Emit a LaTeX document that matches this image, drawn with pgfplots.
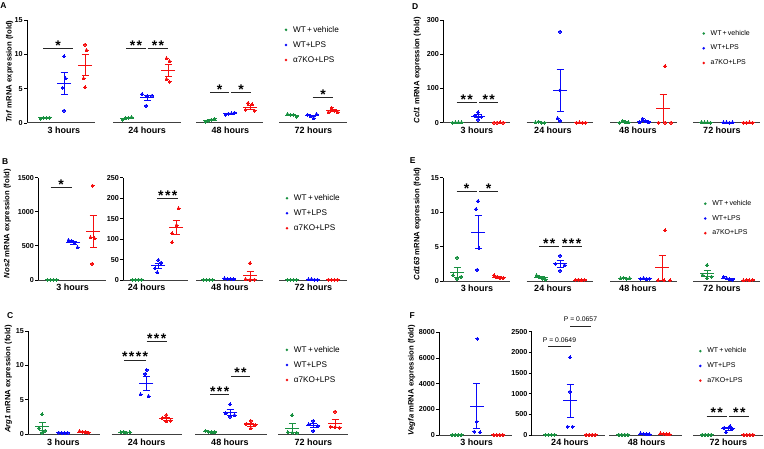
\documentclass[border=0pt]{standalone}
\usepackage{fontspec}
\setmainfont{Liberation Sans}
\setsansfont{Liberation Sans}
\usepackage{pgfplots}
\pgfplotsset{compat=1.18}
\definecolor{cg}{RGB}{25,145,65}
\definecolor{cb}{RGB}{10,10,250}
\definecolor{cr}{RGB}{245,15,15}
\newcommand{\fs}[1]{\fontsize{#1}{#1}\selectfont}
\newcommand{\sig}[4]{\draw[line width=0.9pt, black!85] (axis cs:#1,#3) -- node[midway, anchor=base, yshift=-2pt, inner sep=0pt, text=black, font=\fs{14}\bfseries] {#4} (axis cs:#2,#3);}
\newcommand{\seg}[2]{\draw[line width=1pt, black!75] (axis cs:#1,0) -- (axis cs:#2,0);}
\newcommand{\grp}[2]{\node[anchor=base, yshift=-10.8pt, font=\fs{9}\bfseries, inner sep=0pt] at (axis cs:#1,0) {#2};}
\newcommand{\sst}{*\kern1.4pt*}
\newcommand{\ssst}{*\kern1.4pt*\kern1.4pt*}
\newcommand{\sssst}{*\kern1.4pt*\kern1.4pt*\kern1.4pt*}
\pgfplotsset{
  pan/.style={scale only axis, clip=false, anchor=south west,
    axis x line=none, axis y line*=left,
    axis line style={line width=0.9pt, black},
    ytick style={line width=0.9pt, black},
    major tick length=3pt, tick align=outside,
    scaled y ticks=false,
    yticklabel style={font=\fs{7.2}\bfseries, /pgf/number format/1000 sep={}, /pgf/number format/assume math mode=true, inner sep=1.2pt},
    legend cell align=left,
  },
  leg/.style={legend style={at={#1}, anchor=north west, draw=none, fill=none, font=\fs{8.2}, row sep=5.8pt, inner sep=0pt, nodes={inner sep=1pt}}},
  legs/.style={legend style={at={#1}, anchor=north west, draw=none, fill=none, font=\fs{7}, row sep=6.3pt, inner sep=0pt, nodes={inner sep=1pt}}},
  pts/.style={only marks, mark=*, mark size=1.5pt, color=#1, mark options={fill=#1, draw=#1, line width=0pt},
    legend image code/.code={\fill[draw=none, fill=#1] (0pt,0pt) circle (1.4pt); \path[draw=none, fill=none] (-1.4pt,-1pt) rectangle (6pt,1pt);}},
  msem/.style={forget plot, only marks, color=#1, mark=-, mark size=7pt, mark options={line width=0.9pt, draw=#1}, error bars/.cd, y dir=both, y explicit, error bar style={line width=0.7pt, draw=#1}, error mark options={rotate=90, mark size=3.5pt, line width=0.7pt, draw=#1}},
}
\begin{document}
\begin{tikzpicture}
\path[use as bounding box] (0,0) rectangle (764pt,448pt);
% ---------------- A
\begin{axis}[pan, at={(27pt,325pt)}, width=323pt, height=103pt, xmin=27, xmax=350, ymin=0, ymax=15, ytick={0,5,10,15}, leg={(0.797,0.952)}]
\addplot[msem=cg] coordinates {(45,0.74) +- (0,0.03) (127,0.69) +- (0,0.085) (210,0.41) +- (0,0.09) (292,1.15) +- (0,0.09)};
\addplot[msem=cb] coordinates {(64,5.78) +- (0,1.64) (147,3.65) +- (0,0.39) (230,1.36) +- (0,0.06) (312,1.04) +- (0,0.13)};
\addplot[msem=cr] coordinates {(85,8.43) +- (0,1.52) (168,7.7) +- (0,0.87) (250,2.33) +- (0,0.28) (333,1.79) +- (0,0.14)};
\addplot[pts=cg] coordinates {(40.5,0.65) (43.5,0.75) (46.5,0.75) (49.5,0.8) (122.5,0.45) (125.5,0.7) (128.5,0.75) (131.5,0.85) (205.5,0.2) (208.5,0.35) (211.5,0.5) (214.5,0.6) (287.5,1.3) (290.5,1.2) (293.5,1.2) (296.5,0.9)};
\addplot[pts=cb] coordinates {(64,9.7) (65.5,6.5) (62.5,5.1) (64,1.8) (142,4.2) (152,4.0) (147,3.9) (146,2.5) (225.5,1.2) (228.5,1.35) (231.5,1.4) (234.5,1.5) (307.5,1.2) (310.5,0.95) (313.5,0.7) (316.5,1.3)};
\addplot[pts=cr] coordinates {(85,11.4) (86.5,10.6) (83.5,6.5) (85,5.2) (166.5,9.4) (169.5,9.0) (166.5,6.4) (169.5,6.0) (248,2.9) (252,2.7) (245.5,1.9) (254.5,1.8) (328.5,1.6) (331.5,2.2) (334.5,1.75) (337.5,1.6)};
\legend{WT\,+\,vehicle, WT+LPS, α7KO+LPS}
\seg{27}{95}\seg{113}{181}\seg{196}{263}\seg{279}{347}
\grp{63.8}{3 hours}\grp{147.2}{24 hours}\grp{230.3}{48 hours}\grp{313.3}{72 hours}
\sig{43.3}{72.7}{10.9}{*}
\sig{126}{146}{10.9}{\sst}
\sig{147.7}{168.3}{10.9}{\sst}
\sig{210}{229.3}{4.45}{*}
\sig{231}{251}{4.45}{*}
\sig{312.7}{333.3}{3.7}{*}
\end{axis}
% ---------------- B left
\begin{axis}[pan, at={(38.3pt,168pt)}, width=69.7pt, height=102.3pt, xmin=38.3, xmax=108, ymin=0, ymax=1500, ytick={0,500,1000,1500}]
\addplot[msem=cg] coordinates {(52,1) +- (0,0)};
\addplot[msem=cb] coordinates {(73,546) +- (0,23.7)};
\addplot[msem=cr] coordinates {(93,714) +- (0,240.7)};
\addplot[pts=cg] coordinates {(47.5,1) (50.5,1) (53.5,1) (56.5,1)};
\addplot[pts=cb] coordinates {(68.5,585) (71.5,575) (74.5,545) (77.5,480)};
\addplot[pts=cr] coordinates {(92.5,1383) (90.5,626) (94.5,611) (92,235)};
\seg{38.3}{106}
\grp{72.7}{3 hours}
\sig{50.7}{71.7}{1358}{*}
\end{axis}
% ---------------- B right
\begin{axis}[pan, at={(123.3pt,168pt)}, width=226.7pt, height=102.3pt, xmin=123.3, xmax=350, ymin=0, ymax=250, ytick={0,50,...,250}, leg={(0.715,0.848)}]
\addplot[msem=cg] coordinates {(137,0.65) +- (0,0.07) (208,0.5) +- (0,0) (292,0.5) +- (0,0.04)};
\addplot[msem=cb] coordinates {(158,34.6) +- (0,6.78) (229,2.875) +- (0,0.43) (313,1.43) +- (0,0.22)};
\addplot[msem=cr] coordinates {(176,128.75) +- (0,17.6) (250,11.25) +- (0,9.9) (333,0.65) +- (0,0.06)};
\addplot[pts=cg] coordinates {(132.5,0.5) (135.5,0.6) (138.5,0.7) (141.5,0.8) (203.5,0.5) (206.5,0.5) (209.5,0.5) (212.5,0.5) (287.5,0.5) (290.5,0.6) (293.5,0.4) (296.5,0.5)};
\addplot[pts=cb] coordinates {(158.3,48.8) (161,42.3) (155,28.5) (157.3,18.7) (224.5,4) (227.5,3) (230.5,2.5) (233.5,2) (308.5,1.5) (311.5,2) (314.5,1) (317.5,1.2)};
\addplot[pts=cr] coordinates {(178.5,175) (176.5,134) (172,114) (172,92) (250,41) (245.5,2) (250,1) (254.5,1) (328.5,0.8) (331.5,0.6) (334.5,0.5) (337.5,0.7)};
\legend{WT\,+\,vehicle, WT+LPS, α7KO+LPS}
\seg{123.3}{188}\seg{196}{263}\seg{279}{347}
\grp{146.7}{24 hours}\grp{230}{48 hours}\grp{313.3}{72 hours}
\sig{157.3}{178.3}{199.4}{\ssst}
\end{axis}
% ---------------- C
\begin{axis}[pan, at={(28.3pt,13.7pt)}, width=321.7pt, height=103.3pt, xmin=28.3, xmax=350, ymin=0, ymax=15, ytick={0,5,10,15}, leg={(0.799,0.865)}]
\addplot[msem=cg] coordinates {(42.3,1.125) +- (0,0.61) (125.3,0.3) +- (0,0.02) (210,0.375) +- (0,0.05) (292.3,0.8875) +- (0,0.64)};
\addplot[msem=cb] coordinates {(63.3,0.2) +- (0,0.02) (146.3,7.365) +- (0,0.98) (230,3.19) +- (0,0.4) (313.3,1.2675) +- (0,0.3)};
\addplot[msem=cr] coordinates {(84,0.34) +- (0,0.04) (166.3,2.25) +- (0,0.2) (250.7,1.415) +- (0,0.22) (335,1.605) +- (0,0.56)};
\addplot[pts=cg] coordinates {(42,2.9) (39,0.9) (45,0.5) (42,0.2) (120.8,0.3) (123.8,0.35) (126.8,0.25) (129.8,0.3) (205.5,0.5) (208.5,0.4) (211.5,0.3) (214.5,0.3) (292,2.8) (287.8,0.3) (292.3,0.25) (296.8,0.2)};
\addplot[pts=cb] coordinates {(58.8,0.25) (61.8,0.2) (64.8,0.15) (67.8,0.2) (146.7,9.34) (145,8.76) (140.5,5.8) (148.5,5.56) (230,4.35) (225.5,3.05) (234.5,2.8) (230,2.56) (313.3,1.94) (308.8,1.45) (317.8,1.2) (313.3,0.48)};
\addplot[pts=cr] coordinates {(79.5,0.45) (82.5,0.35) (85.5,0.3) (88.5,0.25) (166.3,2.8) (162,2.3) (170.5,2.0) (166.3,1.9) (250.7,1.94) (246.2,1.5) (255.2,1.35) (250.7,0.87) (335,3.29) (330.5,1.1) (335,1.06) (339.5,0.97)};
\legend{WT\,+\,vehicle, WT+LPS, α7KO+LPS}
\seg{28.3}{100}\seg{111.7}{181.7}\seg{195}{266.7}\seg{278.3}{348.3}
\grp{63.3}{3 hours}\grp{146.7}{24 hours}\grp{230}{48 hours}\grp{313.3}{72 hours}
\sig{124.3}{146}{10.79}{\sssst}
\sig{146.7}{166.7}{13.45}{\ssst}
\sig{210}{229.3}{5.85}{\ssst}
\sig{231}{250}{8.47}{\sst}
\end{axis}
% ---------------- D
\begin{axis}[pan, at={(443.3pt,325.3pt)}, width=318.7pt, height=102.7pt, xmin=443.3, xmax=762, ymin=0, ymax=300, ytick={0,100,200,300}, legs={(0.812,0.912)}]
\addplot[msem=cg] coordinates {(457,0.725) +- (0,0.1) (540,1.25) +- (0,0.6) (624,2.125) +- (0,1.0) (706,0.95) +- (0,0.2)};
\addplot[msem=cb] coordinates {(478,19) +- (0,4.34) (560,94.75) +- (0,60.6) (644,4.75) +- (0,2.5) (728,0.65) +- (0,0.06)};
\addplot[msem=cr] coordinates {(498.5,0.5) +- (0,0.04) (581,0.5) +- (0,0.04) (663,41.5) +- (0,41.2) (748,0.5) +- (0,0.04)};
\addplot[pts=cg] coordinates {(452.5,0.5) (455.5,0.8) (458.5,1) (461.5,0.6) (535.5,1) (538.5,3) (541.5,0.5) (544.5,0.5) (619.5,0.5) (622.5,5) (625.5,2) (628.5,1) (701.5,1.5) (704.5,1) (707.5,0.8) (710.5,0.5)};
\addplot[pts=cb] coordinates {(478,30) (474.5,20) (481.5,17) (478,9) (560,266) (560,95) (557.5,13) (560,5) (639.5,1) (642.5,12) (645.5,4) (648.5,2) (723.5,0.8) (726.5,0.6) (729.5,0.5) (732.5,0.7)};
\addplot[pts=cr] coordinates {(494,0.5) (497,0.4) (500,0.6) (503,0.5) (576.5,0.5) (579.5,0.6) (582.5,0.4) (585.5,0.5) (665,165) (658.5,0.3) (665,0.3) (671,0.3) (743.5,0.5) (746.5,0.4) (749.5,0.6) (752.5,0.5)};
\legend{WT\,+\,vehicle, WT+LPS, a7KO+LPS}
\seg{443.3}{510}\seg{526.7}{593.3}\seg{610}{676.7}\seg{693.3}{760}
\grp{477}{3 hours}\grp{553}{24 hours}\grp{638}{48 hours}\grp{722}{72 hours}
\sig{456.7}{476.7}{59.4}{\sst}
\sig{479}{498.3}{59.4}{\sst}
\end{axis}
% ---------------- E
\begin{axis}[pan, at={(443.3pt,167pt)}, width=318.7pt, height=103.3pt, xmin=443.3, xmax=762, ymin=0, ymax=15, ytick={0,5,10,15}, legs={(0.817,0.792)}]
\addplot[msem=cg] coordinates {(457,1.275) +- (0,0.72) (541,0.475) +- (0,0.13) (625,0.4) +- (0,0.02) (707,1.0475) +- (0,0.43)};
\addplot[msem=cb] coordinates {(478,7.1) +- (0,2.37) (560,2.495) +- (0,0.45) (645,0.325) +- (0,0.03) (728,0.35) +- (0,0.1)};
\addplot[msem=cr] coordinates {(498.5,0.55) +- (0,0.1) (580,0.15) +- (0,0.02) (662,1.9125) +- (0,1.81) (748,0.125) +- (0,0.01)};
\addplot[pts=cg] coordinates {(457,3.4) (453,0.8) (461,0.6) (457,0.3) (536.5,0.8) (539.5,0.55) (542.5,0.35) (545.5,0.2) (620.5,0.4) (623.5,0.45) (626.5,0.35) (629.5,0.4) (707,2.3) (702.5,0.87) (711.5,0.63) (707,0.39)};
\addplot[pts=cb] coordinates {(478,11.6) (476,10.45) (479,4.74) (477,1.6) (560,3.68) (555.5,2.5) (564.5,2.3) (560,1.5) (640.5,0.3) (643.5,0.4) (646.5,0.25) (649.5,0.35) (723.5,0.6) (726.5,0.4) (729.5,0.25) (732.5,0.15)};
\addplot[pts=cr] coordinates {(494,0.8) (497,0.6) (500,0.4) (503,0.4) (575.5,0.15) (578.5,0.2) (581.5,0.1) (584.5,0.15) (665,7.35) (658,0.1) (664,0.1) (670,0.1) (743.5,0.1) (746.5,0.15) (749.5,0.1) (752.5,0.15)};
\legend{WT\,+\,vehicle, WT+LPS, a7KO+LPS}
\seg{443.3}{510}\seg{526.7}{593.3}\seg{610}{676.7}\seg{693.3}{760}
\grp{477}{3 hours}\grp{553}{24 hours}\grp{638}{48 hours}\grp{722}{72 hours}
\sig{456.7}{476.7}{13.06}{*}
\sig{479}{498.3}{13.06}{*}
\sig{539.3}{559.3}{5.08}{\sst}
\sig{561.7}{581.7}{5.08}{\ssst}
\end{axis}
% ---------------- F left
\begin{axis}[pan, at={(439.3pt,13pt)}, width=73.7pt, height=102.7pt, xmin=439.3, xmax=513, ymin=0, ymax=8000, ytick={0,2000,...,8000}]
\addplot[msem=cg] coordinates {(456.7,5) +- (0,0)};
\addplot[msem=cb] coordinates {(476.7,2252.5) +- (0,1760)};
\addplot[msem=cr] coordinates {(498.3,5) +- (0,0)};
\addplot[pts=cg] coordinates {(452.2,5) (455.2,5) (458.2,5) (461.2,5)};
\addplot[pts=cb] coordinates {(477.3,7500) (476.7,1040) (474.3,260) (480,210)};
\addplot[pts=cr] coordinates {(493.8,5) (496.8,5) (499.8,5) (502.8,5)};
\seg{439.3}{511.7}
\grp{476.7}{3 hours}
\end{axis}
% ---------------- F right
\begin{axis}[pan, at={(531.7pt,13pt)}, width=232.3pt, height=103.3pt, xmin=531.7, xmax=764, ymin=0, ymax=2500, ytick={0,500,...,2500}, legs={(0.719,0.855)}]
\addplot[msem=cg] coordinates {(550,5) +- (0,0) (623.3,5) +- (0,0) (706.7,5) +- (0,0)};
\addplot[msem=cb] coordinates {(570,832.75) +- (0,401.7) (645,25) +- (0,6) (728.3,147.5) +- (0,32)};
\addplot[msem=cr] coordinates {(590.7,5) +- (0,0) (665,23.75) +- (0,5.9) (748.3,5) +- (0,0)};
\addplot[pts=cg] coordinates {(545.5,5) (548.5,5) (551.5,5) (554.5,5) (618.8,5) (621.8,5) (624.8,5) (627.8,5) (702.2,5) (705.2,5) (708.2,5) (711.2,5)};
\addplot[pts=cb] coordinates {(570,1879) (570,1048) (567.5,202) (572.5,202) (640.5,40) (643.5,30) (646.5,15) (649.5,15) (730,215) (724,175) (732,135) (726,65)};
\addplot[pts=cr] coordinates {(586.2,5) (589.2,5) (592.2,5) (595.2,5) (660.5,40) (663.5,25) (666.5,15) (669.5,15) (743.8,5) (746.8,5) (749.8,5) (752.8,5)};
\legend{WT\,+\,vehicle, WT+LPS, a7KO+LPS}
\seg{531.7}{605}\seg{609.3}{681.7}\seg{693.3}{763.3}
\grp{570}{24 hours}\grp{646.7}{48 hours}\grp{728.3}{72 hours}
\draw[line width=0.8pt, black!85] (axis cs:548.3,2137) -- node[midway, anchor=base, yshift=4.2pt, font=\fs{6.8}, inner sep=0pt, text=black] {P = 0.0649} (axis cs:570.7,2137);
\draw[line width=0.8pt, black!85] (axis cs:570,2637) -- node[midway, anchor=base, yshift=4.2pt, font=\fs{6.8}, inner sep=0pt, text=black] {P = 0.0657} (axis cs:591,2637);
\sig{706.7}{726.7}{460}{\sst}
\sig{729.3}{749.3}{460}{\sst}
\end{axis}
% ---------------- labels
\node[rotate=90, font=\fs{7.7}\bfseries] at (9.7pt,376.3pt) {\textit{Tnf} mRNA expression (fold)};
\node[rotate=90, font=\fs{7.7}\bfseries] at (7.3pt,224.3pt) {\textit{Nos2} mRNA expression (fold)};
\node[rotate=90, font=\fs{7.7}\bfseries] at (8.3pt,69pt) {\textit{Arg1} mRNA expression (fold)};
\node[rotate=90, font=\fs{7.7}\bfseries] at (417.3pt,378pt) {\textit{Ccl1} mRNA expression (fold)};
\node[rotate=90, font=\fs{7.7}\bfseries] at (417.3pt,224pt) {\textit{Cd163} mRNA expression (fold)};
\node[rotate=90, font=\fs{7.7}\bfseries] at (411.7pt,68pt) {\textit{Vegfa} mRNA expression (fold)};
\node[font=\fs{8.5}\bfseries, inner sep=0pt] at (3.5pt,442.5pt) {A};
\node[font=\fs{8.5}\bfseries, inner sep=0pt] at (5.3pt,286.5pt) {B};
\node[font=\fs{8.5}\bfseries, inner sep=0pt] at (10.3pt,132.7pt) {C};
\node[font=\fs{8.5}\bfseries, inner sep=0pt] at (415.3pt,441.8pt) {D};
\node[font=\fs{8.5}\bfseries, inner sep=0pt] at (412.7pt,287.7pt) {E};
\node[font=\fs{8.5}\bfseries, inner sep=0pt] at (412.2pt,132.7pt) {F};
\end{tikzpicture}
\end{document}
